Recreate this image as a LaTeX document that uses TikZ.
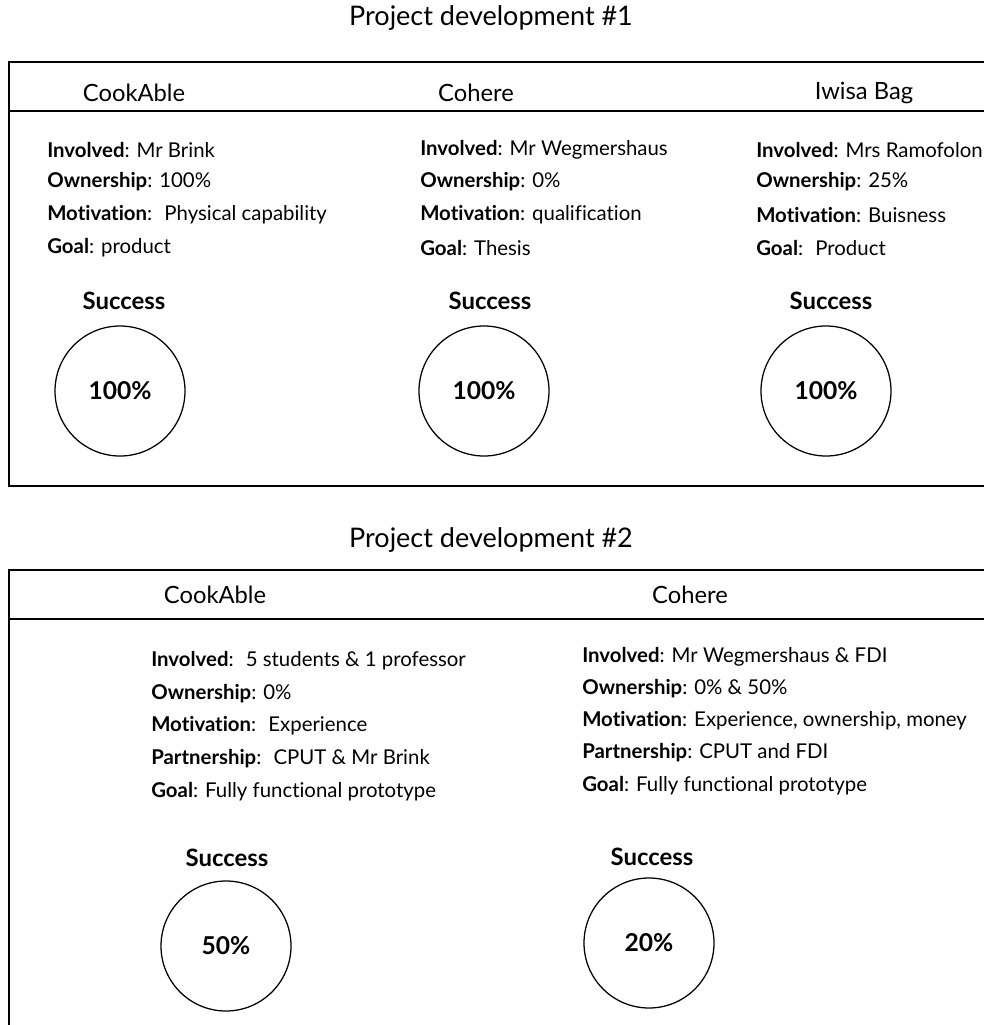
\documentclass[tikz,border=0pt]{standalone}
\usepackage{fontspec}
\setmainfont[Ligatures=NoCommon]{Lato}
\usepackage{tikz}
\usetikzlibrary{positioning}

\tikzset{
    frame/.style={line width=1.2pt},
    title/.style={font=\fontsize{19.2}{23}\selectfont, inner sep=0pt},
    project/.style={font=\fontsize{16.9}{20}\selectfont, inner sep=0pt},
    info/.style={font=\fontsize{14.5}{17}\selectfont, anchor=west, inner sep=0pt},
    successlabel/.style={font=\fontsize{17}{20}\selectfont\bfseries, inner sep=0pt},
    score/.style={draw, circle, line width=0.9pt, minimum size=3.25cm, font=\fontsize{17.5}{20}\selectfont\bfseries}
}

\begin{document}
\begin{tikzpicture}
\clip (0,0) rectangle (24.6,-25.625);

% ---- first round ----
\node[title] (title1) at (12.275,-0.45) {Project development \#1};
\draw[frame] (25,-1.55) -- (0.225,-1.55) -- (0.225,-12.15) -- (25,-12.15);
\draw[frame] (0.225,-2.775) -- (25,-2.775);

\node[project] (cook1) at (3.35,-2.325) {CookAble};
\node[project] (coh1) at (11.9,-2.325) {Cohere};
\node[project] (iwisa1) at (21.6,-2.325) {Iwisa Bag};

\node[info] (cook1-inv) at (1.175,-3.75) {\textbf{Involved}: Mr Brink};
\node[info] (cook1-own) at (1.175,-4.55) {\textbf{Ownership}: 100\%};
\node[info] (cook1-mot) at (1.175,-5.375) {\textbf{Motivation}:~ Physical capability};
\node[info] (cook1-goal) at (1.175,-6.2) {\textbf{Goal}: product};

\node[info] (coh1-inv) at (10.5,-3.75) {\textbf{Involved}: Mr Wegmershaus};
\node[info] (coh1-own) at (10.5,-4.55) {\textbf{Ownership}: 0\%};
\node[info] (coh1-mot) at (10.5,-5.375) {\textbf{Motivation}: qualification};
\node[info] (coh1-goal) at (10.5,-6.2) {\textbf{Goal}: Thesis};

\node[info] (iwisa1-inv) at (18.9,-3.75) {\textbf{Involved}: Mrs Ramofolon};
\node[info] (iwisa1-own) at (18.9,-4.55) {\textbf{Ownership}: 25\%};
\node[info] (iwisa1-mot) at (18.9,-5.375) {\textbf{Motivation}: Buisness};
\node[info] (iwisa1-goal) at (18.9,-6.2) {\textbf{Goal}:~ Product};

\node[successlabel] (cook1-succ) at (3.1,-7.525) {Success};
\node[successlabel] (coh1-succ) at (12.25,-7.525) {Success};
\node[successlabel] (iwisa1-succ) at (20.775,-7.525) {Success};

\node[score] (cook1-score) at (3.0,-9.775) {100\%};
\node[score] (coh1-score) at (12.1,-9.775) {100\%};
\node[score] (iwisa1-score) at (20.65,-9.775) {100\%};

% ---- second round ----
\node[title] (title2) at (12.275,-13.5) {Project development \#2};
\draw[frame] (25,-14.25) -- (0.225,-14.25) -- (0.225,-26);
\draw[frame] (0.225,-15.475) -- (25,-15.475);

\node[project] (cook2) at (5.375,-14.875) {CookAble};
\node[project] (coh2) at (17.25,-14.875) {Cohere};

\node[info] (cook2-inv) at (3.775,-16.525) {\textbf{Involved}:~ 5 students \& 1 professor};
\node[info] (cook2-own) at (3.775,-17.35) {\textbf{Ownership}: 0\%};
\node[info] (cook2-mot) at (3.775,-18.15) {\textbf{Motivation}:~ Experience};
\node[info] (cook2-part) at (3.775,-18.975) {\textbf{Partnership}:~ CPUT \& Mr Brink};
\node[info] (cook2-goal) at (3.775,-19.8) {\textbf{Goal}: Fully functional prototype};

\node[info] (coh2-inv) at (14.55,-16.425) {\textbf{Involved}: Mr Wegmershaus \& FDI};
\node[info] (coh2-own) at (14.55,-17.225) {\textbf{Ownership}: 0\% \& 50\%};
\node[info] (coh2-mot) at (14.55,-18.025) {\textbf{Motivation}: Experience, ownership, money};
\node[info] (coh2-part) at (14.55,-18.825) {\textbf{Partnership}: CPUT and FDI};
\node[info] (coh2-goal) at (14.55,-19.65) {\textbf{Goal}: Fully functional prototype};

\node[successlabel] (cook2-succ) at (5.675,-21.45) {Success};
\node[successlabel] (coh2-succ) at (16.3,-21.425) {Success};

\node[score] (cook2-score) at (5.65,-23.65) {50\%};
\node[score] (coh2-score) at (16.225,-23.575) {20\%};
\end{tikzpicture}
\end{document}
